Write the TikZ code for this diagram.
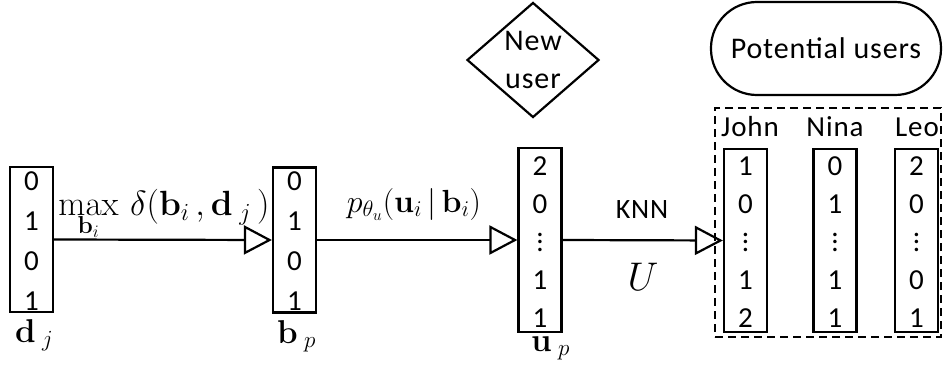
\RequirePackage{fix-cm}
\documentclass[tikz,border=0pt]{standalone}
\usepackage[no-math]{fontspec}
\setmainfont{Carlito}[LetterSpace=3]
\usetikzlibrary{arrows.meta,shapes.geometric}

% three stacked dots sized for the large digits
\newcommand\coldots{\vbox{\baselineskip=7.5pt\lineskiplimit=0pt\hbox{.}\hbox{.}\hbox{.}}}

\begin{document}
\begin{tikzpicture}[x=1pt,y=-1pt,
  vec/.style={draw,line width=2.2pt,minimum width=43pt,inner sep=0pt},
  digit/.style={font=\fontsize{29}{30}\selectfont,inner sep=0pt},
  uname/.style={font=\fontsize{29}{32}\selectfont,inner sep=0pt},
  flow/.style={line width=2.2pt,-{Triangle[open,length=28pt,width=29pt,line width=2.2pt]}},
  mathlbl/.style={anchor=base,inner sep=0pt},
  veclbl/.style={anchor=base west,inner sep=0pt,font=\fontsize{33}{36}\selectfont}]
\useasboundingbox (0,0) rectangle (943,372);

% document vector d_j
\node[vec,minimum height=145pt] (dj) at (31.5,239.5) {};
\foreach \v [count=\k] in {0,1,0,1}
  \node[digit] (dj-\k) at (31.5,141+40*\k) {\v};
\node[veclbl] (djl) at (15,342) {$\mathbf{d}_{\;j}$};

% binary code b_p
\node[vec,minimum height=145pt] (bp) at (294.5,240) {};
\foreach \v [count=\k] in {0,1,0,1}
  \node[digit] (bp-\k) at (294.5,141+40*\k) {\v};
\node[veclbl] (bpl) at (277,343) {$\mathbf{b}_{\;p}$};

% user profile u_p
\node[vec,minimum height=184pt] (up) at (540,240) {};
\foreach \v [count=\k] in {2,0,\coldots,1,1}
  \node[digit] (up-\k) at (540,128+38*\k) {\v};
\node[veclbl] (upl) at (531,351) {$\mathbf{u}_{\;p}$};

% new user
\node[draw,diamond,line width=2.2pt,minimum width=132pt,minimum height=115pt,
  inner sep=0pt,align=center,font=\fontsize{30}{38}\selectfont] (new) at (533,60) {New\\user};

% potential users
\node[draw,line width=2.2pt,rounded corners=46pt,minimum width=230pt,minimum height=93pt,
  font=\fontsize{30}{36}\selectfont] (pot) at (826,48.5) {Potential users};
\node[draw,line width=2.2pt,dash pattern=on 8pt off 5pt,minimum width=226pt,minimum height=229pt,
  inner sep=0pt] (pool) at (828,222.5) {};

\node[uname] (john) at (750,127) {John};
\node[uname] (nina) at (835,127) {Nina};
\node[uname] (leo) at (917,127) {Leo};

\node[vec,minimum height=183pt] (jv) at (745.5,240.5) {};
\foreach \v [count=\k] in {1,0,\coldots,1,2}
  \node[digit] (jv-\k) at (745.5,128+38*\k) {\v};
\node[vec,minimum height=183pt] (nv) at (835,240.5) {};
\foreach \v [count=\k] in {0,1,\coldots,1,1}
  \node[digit] (nv-\k) at (835,128+38*\k) {\v};
\node[vec,minimum height=183pt] (lv) at (916.5,240.5) {};
\foreach \v [count=\k] in {2,0,\coldots,0,1}
  \node[digit] (lv-\k) at (916.5,128+38*\k) {\v};

% connectors
\draw[flow] (dj.east) -- (bp.west);
\draw[flow] (bp.east) -- (up.west);
\draw[flow] (up.east) -- (jv.west);

% labels on the connectors
\node[mathlbl,font=\fontsize{35}{40}\selectfont] (l1) at (164,215)
  {$\displaystyle\max_{\mathbf{b}_i}\,\delta(\mathbf{b}_i\,,\mathbf{d}_{\;j}\,)$};
\node[mathlbl,font=\fontsize{32}{38}\selectfont] (l2) at (414,212)
  {$p_{\theta_u}(\mathbf{u}_i\,|\,\mathbf{b}_i)$};
\node[font=\fontsize{28}{30}\selectfont] (knn) at (642,210) {KNN};
\node[font=\fontsize{40}{44}\selectfont] (U) at (643,277) {$U$};
\end{tikzpicture}
\end{document}
